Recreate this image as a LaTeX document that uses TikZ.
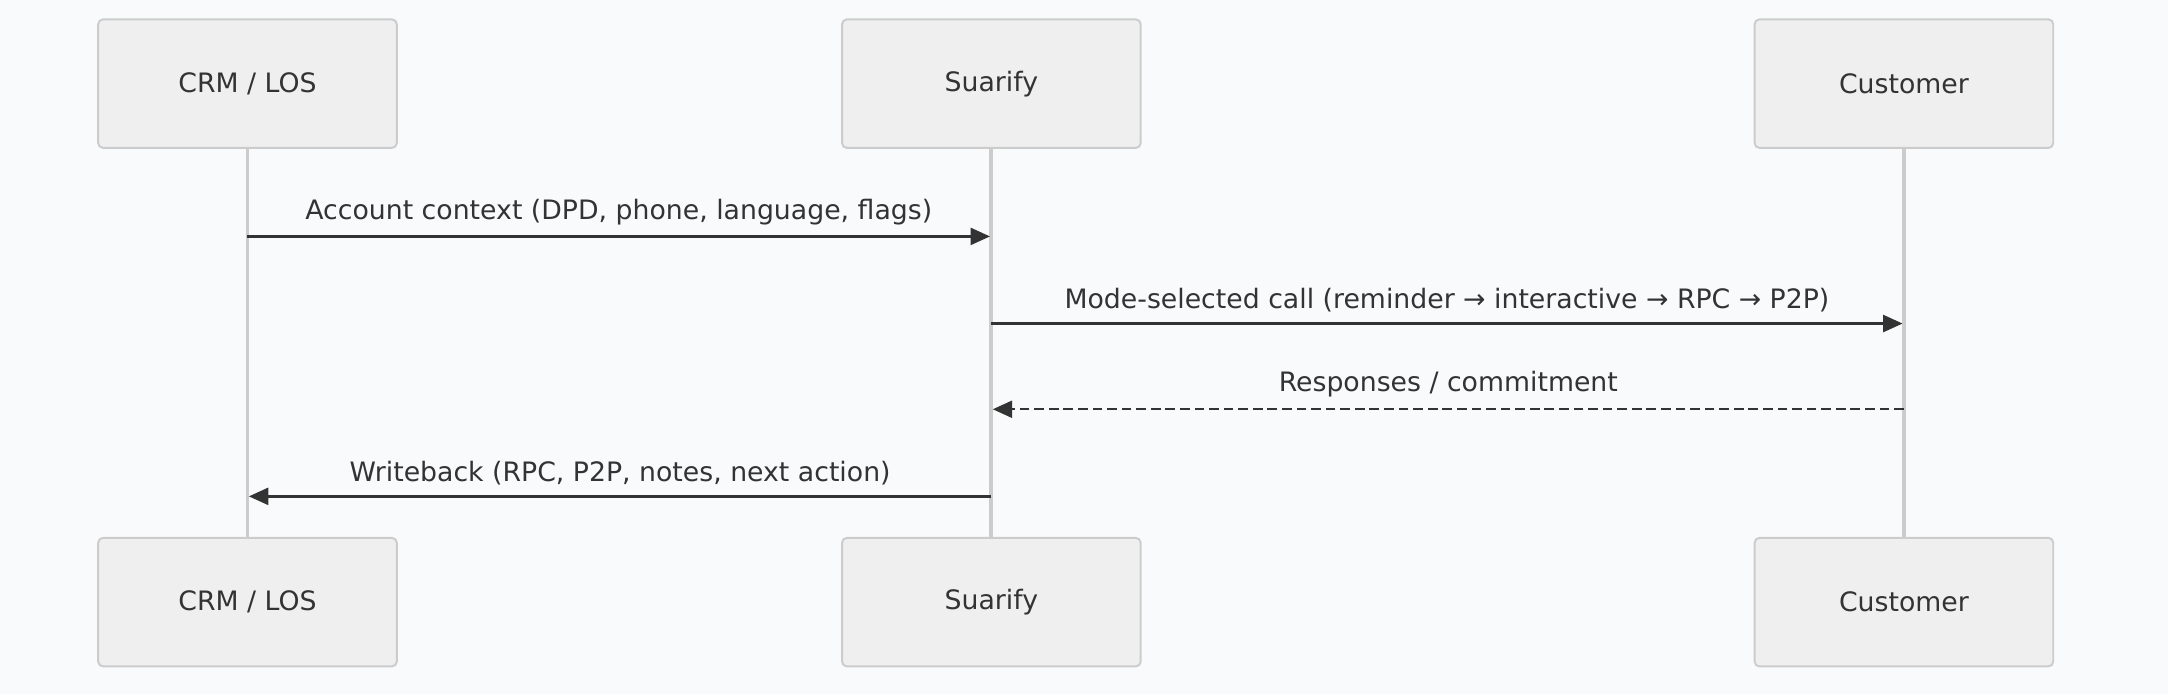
\documentclass[tikz,border=0pt]{standalone}
\usepackage{fontspec}
\setmainfont{DejaVu Sans}
\usetikzlibrary{arrows.meta,positioning}
\definecolor{bgcol}{HTML}{F8FAFC}
\definecolor{boxfill}{HTML}{EFEFEF}
\definecolor{boxline}{HTML}{CCCCCC}
\definecolor{txtcol}{HTML}{333333}
\tikzset{
  actor/.style={rectangle, rounded corners=2pt, draw=boxline, fill=boxfill, line width=0.8pt,
    minimum width=4.32cm, minimum height=1.86cm, font=\fontsize{11}{13}\selectfont, text=txtcol},
  life/.style={draw=boxline, line width=1.6pt},
  msg/.style={draw=txtcol, line width=1pt, -{Triangle[length=8pt,width=7pt]}},
  lbl/.style={font=\fontsize{11}{13}\selectfont, text=txtcol, above=1pt}
}
\begin{document}
\begin{tikzpicture}[x=0.02cm,y=-0.02cm]
  \fill[bgcol] (0,0) rectangle (1568,502);
  \useasboundingbox (0,0) rectangle (1568,502);
  % lifelines first
  \node[actor] (crmtop) at (179,60.5) {CRM / LOS};
  \node[actor] (suatop) at (717,60.5) {Suarify};
  \node[actor] (custop) at (1377,60.5) {Customer};
  \node[actor] (crmbot) at (179,435.5) {CRM / LOS};
  \node[actor] (suabot) at (717,435.5) {Suarify};
  \node[actor] (cusbot) at (1377,435.5) {Customer};
  \begin{scope}[on background layer/.try]
  \end{scope}
  \draw[life] (crmtop.south) -- (crmbot.north);
  \draw[life] (suatop.south) -- (suabot.north);
  \draw[life] (custop.south) -- (cusbot.north);
  % messages
  \coordinate (m1a) at (179,171); \coordinate (m1b) at (716,171);
  \coordinate (m2a) at (717,234); \coordinate (m2b) at (1376,234);
  \coordinate (m3a) at (1377,296); \coordinate (m3b) at (718,296);
  \coordinate (m4a) at (717,359); \coordinate (m4b) at (180,359);
  \draw[msg] (m1a) -- node[lbl] {Account context (DPD, phone, language, flags)} (m1b);
  \draw[msg] (m2a) -- node[lbl] {Mode-selected call (reminder → interactive → RPC → P2P)} (m2b);
  \draw[msg, dashed, dash pattern=on 4pt off 2pt] (m3a) -- node[lbl] {Responses / commitment} (m3b);
  \draw[msg] (m4a) -- node[lbl] {Writeback (RPC, P2P, notes, next action)} (m4b);
\end{tikzpicture}
\end{document}
